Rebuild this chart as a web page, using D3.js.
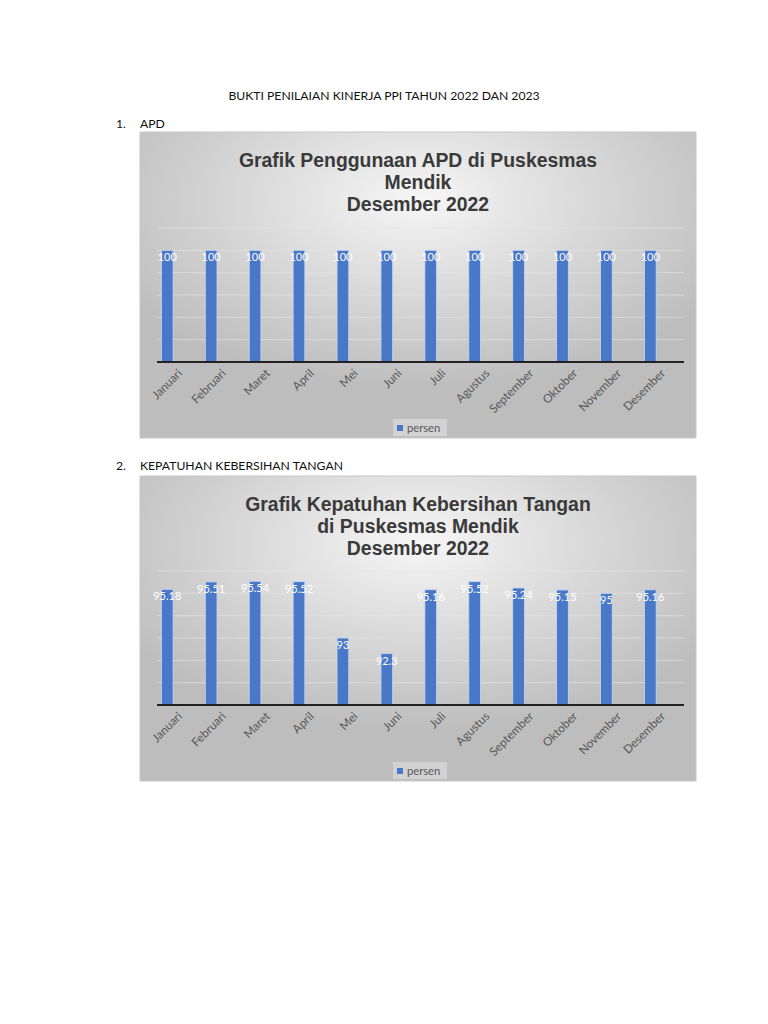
<!DOCTYPE html>
<html>
<head>
<meta charset="utf-8">
<script src="https://cdn.jsdelivr.net/npm/d3@7"></script>
<style>
  html, body { margin: 0; padding: 0; background: #fff; }
  svg { display: block; }
</style>
</head>
<body>
<script>
// chart data
const months = ['Januari', 'Februari', 'Maret', 'April', 'Mei', 'Juni', 'Juli',
  'Agustus', 'September', 'Oktober', 'November', 'Desember'];
const apdValues = [100, 100, 100, 100, 100, 100, 100, 100, 100, 100, 100, 100];
const handValues = [95.18, 95.51, 95.54, 95.52, 93, 92.3, 95.16, 95.52, 95.24, 95.15, 95, 95.16];
const apdTicks = [0, 20, 40, 60, 80, 100, 120];
const handTicks = [90, 91, 92, 93, 94, 95, 96];
const apdTitle = ['Grafik Penggunaan APD di Puskesmas', 'Mendik', 'Desember 2022'];
const handTitle = ['Grafik Kepatuhan Kebersihan Tangan', 'di Puskesmas Mendik', 'Desember 2022'];
const seriesName = 'persen';

const FONT = 'Lato, "Open Sans", sans-serif';
const TITLE_FONT = '"Liberation Sans", Arial, sans-serif';

const svg = d3.select('body').append('svg')
  .attr('width', 768)
  .attr('height', 1024);

svg.append('rect').attr('width', 768).attr('height', 1024).attr('fill', '#fff');

const defs = svg.append('defs');
const grad = defs.append('radialGradient')
  .attr('id', 'chartBg')
  .attr('cx', 0.5).attr('cy', 0.22).attr('r', 0.62);
grad.append('stop').attr('offset', 0).attr('stop-color', '#f6f6f6');
grad.append('stop').attr('offset', 0.55).attr('stop-color', '#d6d6d6');
grad.append('stop').attr('offset', 1).attr('stop-color', '#bdbdbd');

// page heading
svg.append('text')
  .attr('x', 384).attr('y', 100)
  .attr('text-anchor', 'middle')
  .attr('font-family', FONT).attr('font-size', 12.2)
  .attr('fill', '#111')
  .text('BUKTI PENILAIAN KINERJA PPI TAHUN 2022 DAN 2023');

function sectionLabel(num, label, y) {
  svg.append('text').attr('x', 116).attr('y', y)
    .attr('font-family', FONT).attr('font-size', 12.2).attr('fill', '#111')
    .text(num);
  svg.append('text').attr('x', 140).attr('y', y)
    .attr('font-family', FONT).attr('font-size', 12.2).attr('fill', '#111')
    .text(label);
}

sectionLabel('1.', 'APD', 128);
sectionLabel('2.', 'KEPATUHAN KEBERSIHAN TANGAN', 470);

// draw one Excel style column chart
function drawChart(opt) {
  const g = svg.append('g');

  g.append('rect')
    .attr('x', opt.x).attr('y', opt.y)
    .attr('width', opt.w).attr('height', opt.h)
    .attr('fill', 'url(#chartBg)')
    .attr('stroke', '#c8c8c8').attr('stroke-width', 1);

  // title lines
  const cx = opt.x + opt.w / 2;
  opt.title.forEach((line, i) => {
    g.append('text')
      .attr('x', cx).attr('y', opt.y + 35 + i * 22)
      .attr('text-anchor', 'middle')
      .attr('font-family', TITLE_FONT).attr('font-weight', 'bold')
      .attr('font-size', 19.4).attr('fill', '#3a3a3a')
      .text(line);
  });

  const x = d3.scaleBand().domain(months).range([157, 684]).padding(0);
  const y = d3.scaleLinear().domain(opt.domain).range([opt.base, opt.top]);
  const bw = x.bandwidth();

  // gridlines
  g.selectAll('.grid').data(opt.ticks).enter().append('line')
    .attr('x1', 157).attr('x2', 684)
    .attr('y1', d => y(d)).attr('y2', d => y(d))
    .attr('stroke', '#e6e6e6').attr('stroke-opacity', 0.6).attr('stroke-width', 1);

  // bars
  const barW = bw * 0.266;
  const barX = d => x(d) + bw * 0.1;
  g.selectAll('.bar').data(opt.values).enter().append('rect')
    .attr('x', (d, i) => barX(months[i]))
    .attr('y', d => y(d))
    .attr('width', barW)
    .attr('height', d => y(opt.domain[0]) - y(d))
    .attr('fill', '#4a78c8')
    .attr('stroke', '#c9d6ee').attr('stroke-width', 0.8);

  // data labels inside end
  g.selectAll('.lbl').data(opt.values).enter().append('text')
    .attr('x', (d, i) => barX(months[i]) + barW / 2)
    .attr('y', d => y(d) + 11)
    .attr('text-anchor', 'middle')
    .attr('font-family', FONT).attr('font-size', 11)
    .attr('fill', '#fff')
    .text(d => d);

  // category axis line
  g.append('line')
    .attr('x1', 157).attr('x2', 684)
    .attr('y1', opt.base).attr('y2', opt.base)
    .attr('stroke', '#222').attr('stroke-width', 2);

  // rotated month labels
  g.selectAll('.cat').data(months).enter().append('text')
    .attr('transform', d => `translate(${x(d) + bw / 2 + 1},${opt.base + 9}) rotate(-45)`)
    .attr('text-anchor', 'end')
    .attr('dy', '0.35em')
    .attr('font-family', FONT).attr('font-size', 11.8)
    .attr('fill', '#595959')
    .text(d => d);

  // legend
  const ly = opt.y + opt.h - 10;
  g.append('rect')
    .attr('x', cx - 25).attr('y', ly - 9)
    .attr('width', 54).attr('height', 17)
    .attr('fill', '#e0e0e0').attr('fill-opacity', 0.6);
  g.append('rect')
    .attr('x', cx - 21).attr('y', ly - 3)
    .attr('width', 6).attr('height', 6)
    .attr('fill', '#4a78c8');
  g.append('text')
    .attr('x', cx - 11).attr('y', ly + 4)
    .attr('font-family', FONT).attr('font-size', 11.2)
    .attr('fill', '#595959')
    .text(seriesName);
}

drawChart({
  x: 140, y: 132, w: 556, h: 306,
  title: apdTitle,
  values: apdValues,
  ticks: apdTicks,
  domain: [0, 120],
  base: 362, top: 228
});

drawChart({
  x: 140, y: 476, w: 556, h: 305,
  title: handTitle,
  values: handValues,
  ticks: handTicks,
  domain: [90, 96],
  base: 705, top: 571
});
</script>
</body>
</html>
